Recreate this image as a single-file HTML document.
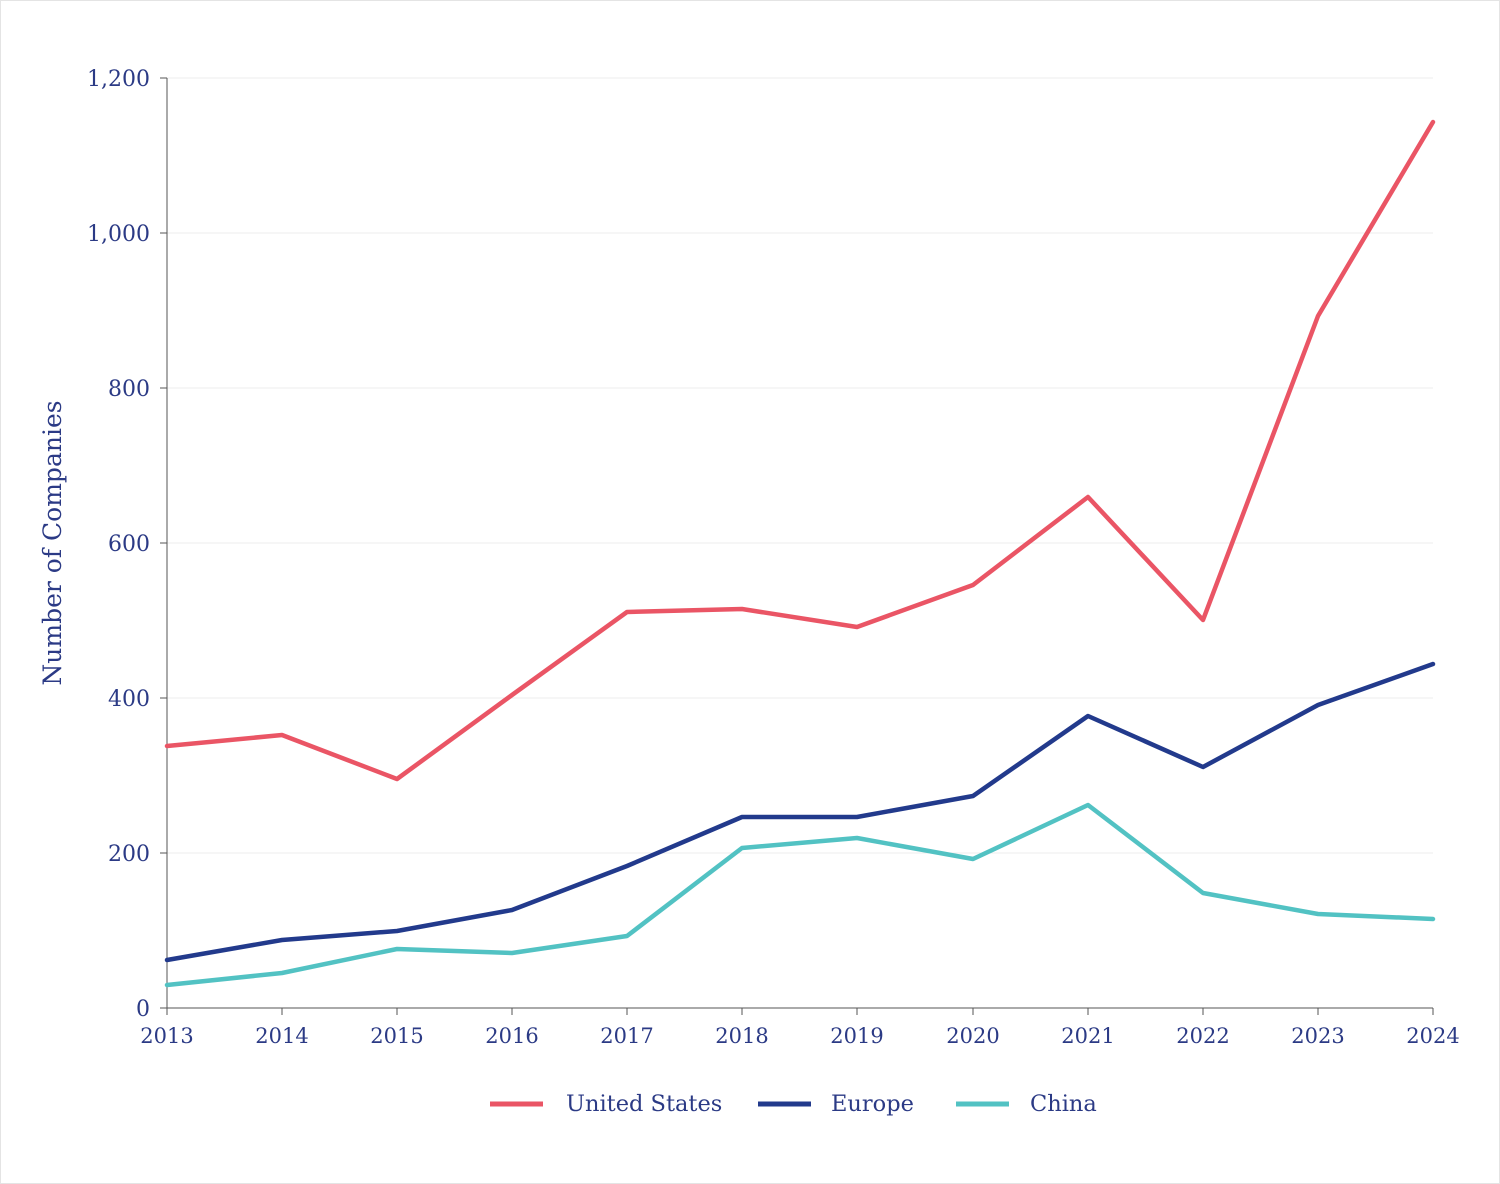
<!DOCTYPE html>
<html><head><meta charset="utf-8"><style>
html,body{margin:0;padding:0;background:#fff;}
svg{display:block;}
text{font-family:"DejaVu Serif","Liberation Serif",serif;fill:#2b3a85;}
</style></head><body>
<svg width="1500" height="1184" viewBox="0 0 1500 1184" xmlns="http://www.w3.org/2000/svg">
<rect x="0.5" y="0.5" width="1499" height="1183" fill="#fff" stroke="#e4e4e4"/>
<g stroke="#ececec" stroke-width="1">
<line x1="167" y1="78" x2="1433" y2="78"/>
<line x1="167" y1="233" x2="1433" y2="233"/>
<line x1="167" y1="388" x2="1433" y2="388"/>
<line x1="167" y1="543" x2="1433" y2="543"/>
<line x1="167" y1="698" x2="1433" y2="698"/>
<line x1="167" y1="853" x2="1433" y2="853"/>
</g>
<g stroke="#555" stroke-width="1">
<line x1="167" y1="78" x2="167" y2="1008"/>
<line x1="167" y1="1008" x2="1433" y2="1008"/>
<line x1="160" y1="78" x2="167" y2="78"/><line x1="160" y1="233" x2="167" y2="233"/><line x1="160" y1="388" x2="167" y2="388"/><line x1="160" y1="543" x2="167" y2="543"/><line x1="160" y1="698" x2="167" y2="698"/><line x1="160" y1="853" x2="167" y2="853"/><line x1="160" y1="1008" x2="167" y2="1008"/>
<line x1="167" y1="1008" x2="167" y2="1015"/><line x1="282" y1="1008" x2="282" y2="1015"/><line x1="397" y1="1008" x2="397" y2="1015"/><line x1="512" y1="1008" x2="512" y2="1015"/><line x1="627" y1="1008" x2="627" y2="1015"/><line x1="742" y1="1008" x2="742" y2="1015"/><line x1="857" y1="1008" x2="857" y2="1015"/><line x1="973" y1="1008" x2="973" y2="1015"/><line x1="1088" y1="1008" x2="1088" y2="1015"/><line x1="1203" y1="1008" x2="1203" y2="1015"/><line x1="1318" y1="1008" x2="1318" y2="1015"/><line x1="1433" y1="1008" x2="1433" y2="1015"/>
</g>
<g font-size="22" text-anchor="end">
<text x="150" y="86">1,200</text><text x="150" y="241">1,000</text><text x="150" y="396">800</text><text x="150" y="551">600</text><text x="150" y="706">400</text><text x="150" y="861">200</text><text x="150" y="1016">0</text>
</g>
<g font-size="21" text-anchor="middle">
<text x="167" y="1043">2013</text><text x="282" y="1043">2014</text><text x="397" y="1043">2015</text><text x="512" y="1043">2016</text><text x="627" y="1043">2017</text><text x="742" y="1043">2018</text><text x="857" y="1043">2019</text><text x="973" y="1043">2020</text><text x="1088" y="1043">2021</text><text x="1203" y="1043">2022</text><text x="1318" y="1043">2023</text><text x="1433" y="1043">2024</text>
</g>
<text x="0" y="0" font-size="25" text-anchor="middle" transform="translate(61,543) rotate(-90)">Number of Companies</text>
<g fill="none" stroke-width="4.5" stroke-linejoin="round" stroke-linecap="round">
<polyline stroke="#ea5565" points="167,746 282,735 397,779 512,695 627,612 742,609 857,627 973,585 1088,497 1203,620 1318,316 1433,122"/>
<polyline stroke="#223a8c" points="167,960 282,940 397,931 512,910 627,866 742,817 857,817 973,796 1088,716 1203,767 1318,705 1433,664"/>
<polyline stroke="#52c2c3" points="167,985 282,973 397,949 512,953 627,936 742,848 857,838 973,859 1088,805 1203,893 1318,914 1433,919"/>
</g>
<g stroke-width="5">
<line x1="490" y1="1104" x2="543" y2="1104" stroke="#ea5565"/>
<line x1="758" y1="1104" x2="811" y2="1104" stroke="#223a8c"/>
<line x1="956" y1="1104" x2="1009" y2="1104" stroke="#52c2c3"/>
</g>
<g font-size="22.5">
<text x="566" y="1111">United States</text>
<text x="831" y="1111">Europe</text>
<text x="1030" y="1111">China</text>
</g>
</svg>
</body></html>
